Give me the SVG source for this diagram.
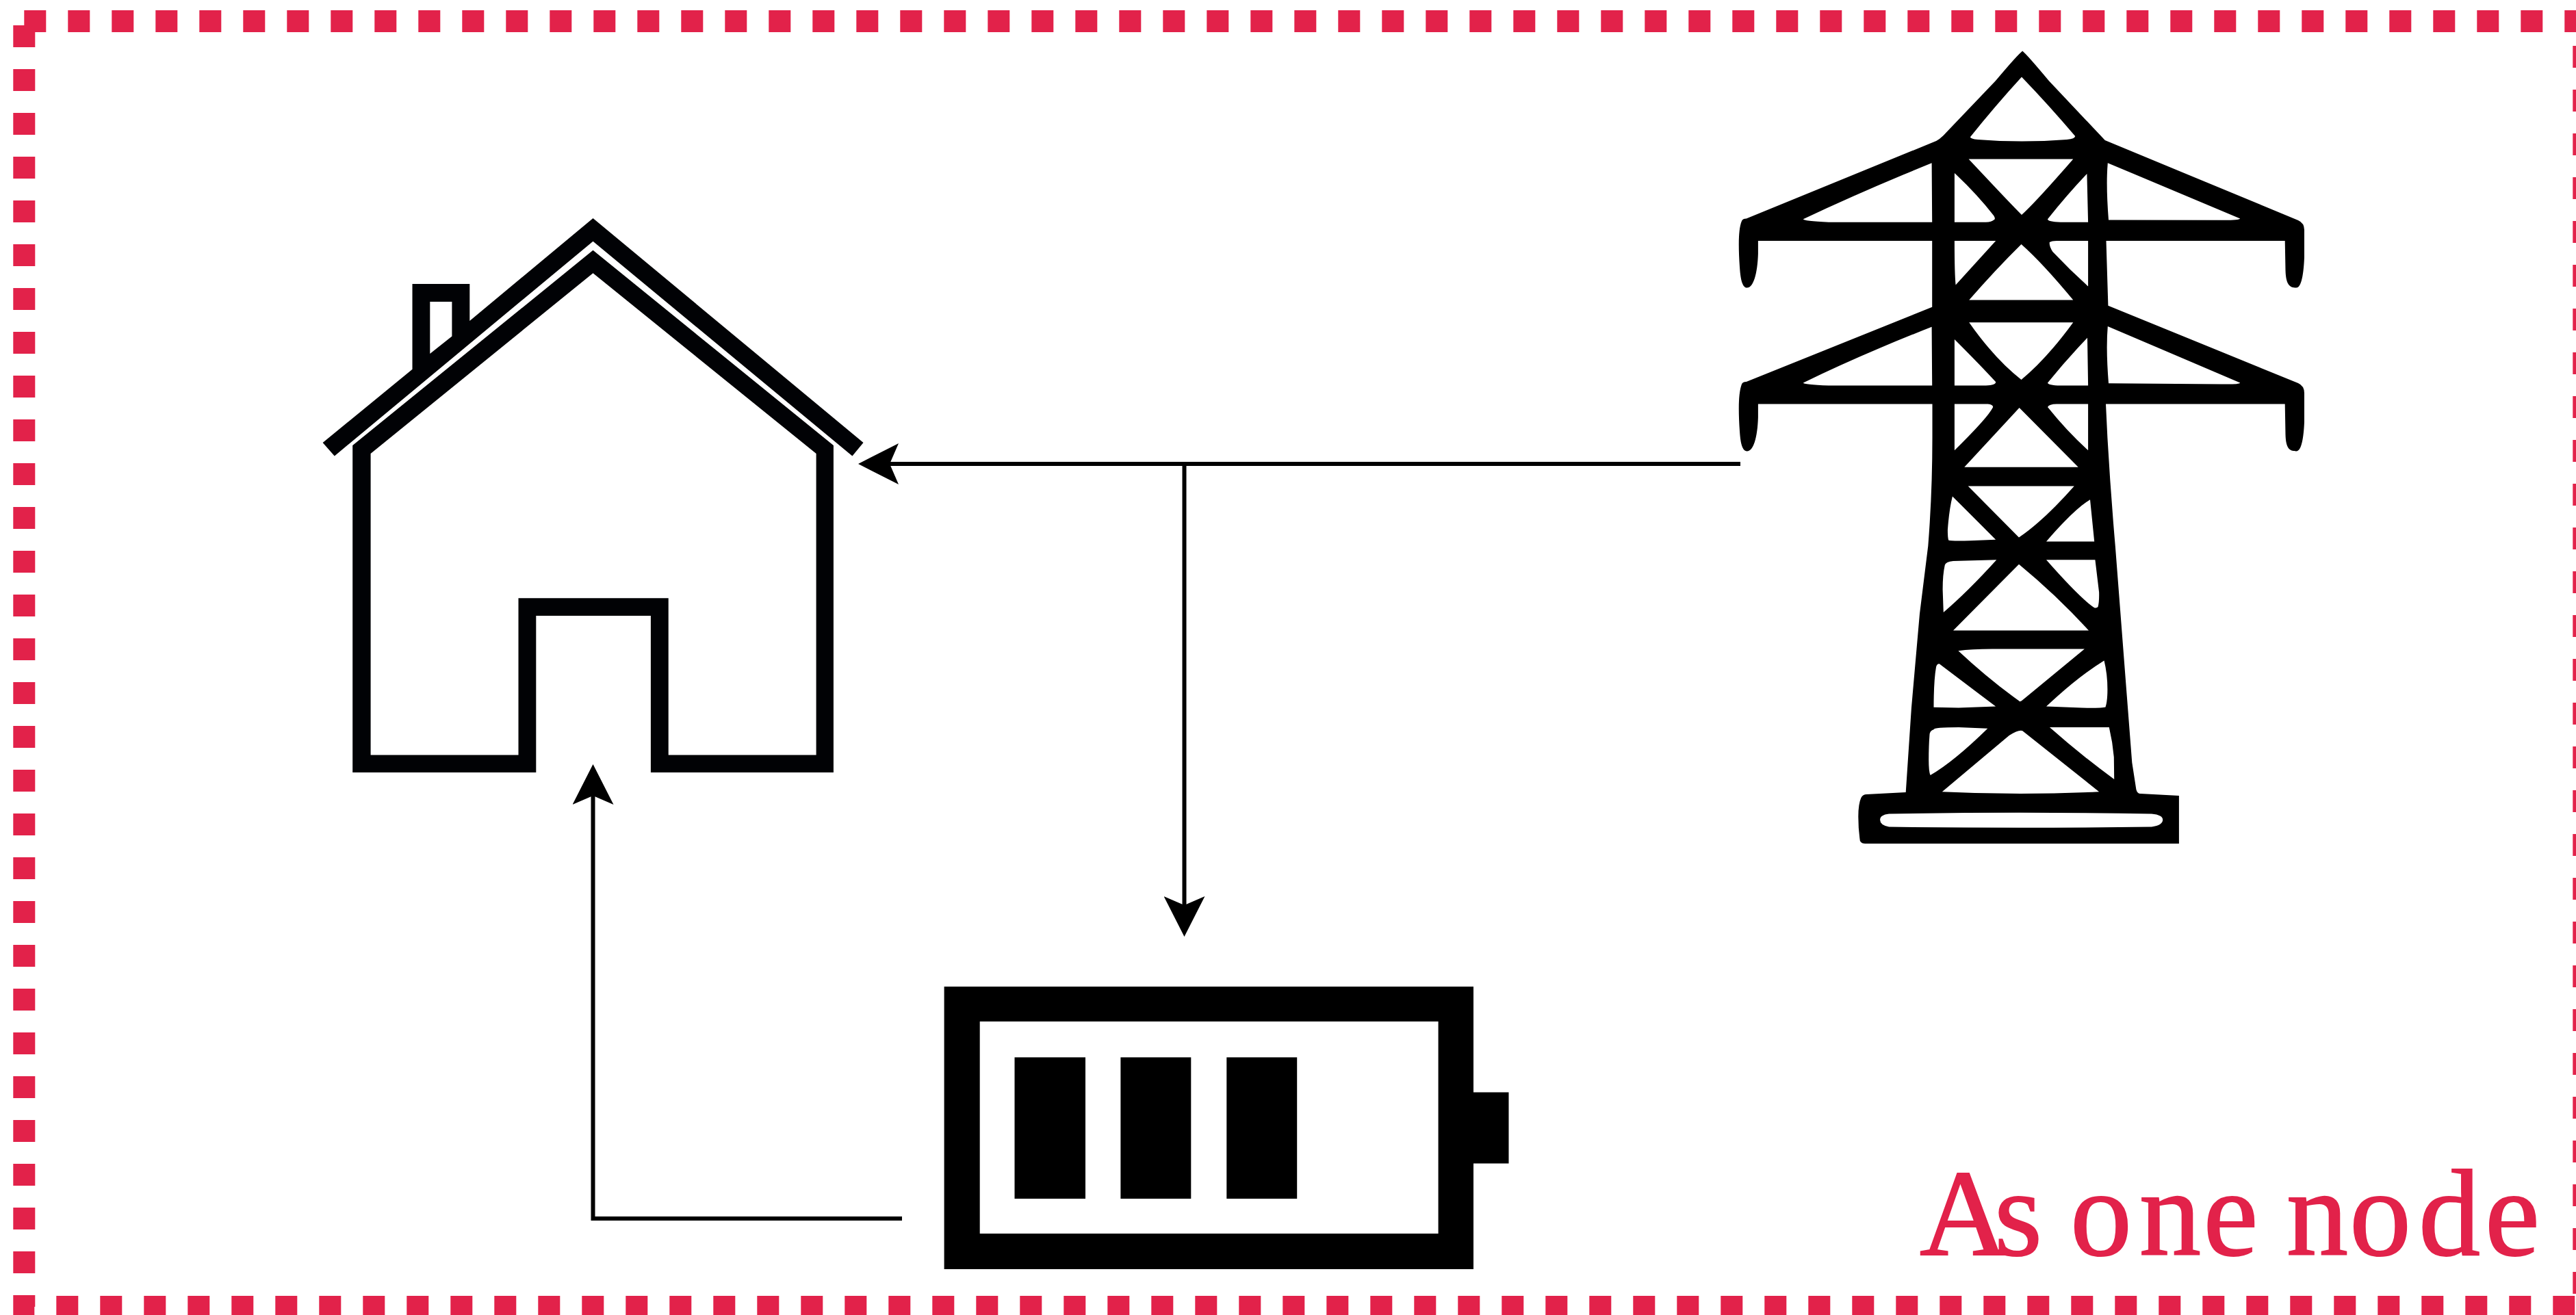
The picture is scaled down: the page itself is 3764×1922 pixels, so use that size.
<svg xmlns="http://www.w3.org/2000/svg" width="3764" height="1922" viewBox="0 0 3764 1922">
<style>
.ink{fill:#000;fill-rule:evenodd}
.house{fill:#010205;fill-rule:evenodd}
.conn{fill:none;stroke:#000;stroke-width:6}
.frame{fill:none;stroke:#E2224A;stroke-width:32;stroke-dasharray:32 32}
.label{fill:#E2224A;stroke:#E2224A;stroke-width:2;font-family:"Liberation Serif","Times New Roman",serif;font-size:180px}
</style>
<defs>
<marker id="arrow" markerUnits="userSpaceOnUse" viewBox="0 0 59 60" refX="13" refY="30" markerWidth="59" markerHeight="60" orient="auto">
<path d="M0 0L59 30L0 60L13 30Z" fill="#000"/>
</marker>
</defs>
<rect width="3764" height="1922" fill="#fff"/>
<g id="boundary">
<rect class="frame" x="35.3" y="31" width="3740" height="1879"/>
<text class="label" x="2805 2914 2990 3025 3126 3219.5 3300 3341 3433 3534 3631" y="1834">As one node</text>
</g>
<g id="house">
<path class="house" d="M866.5 319L1261.5 647L1245.4 666.4L866.5 352.7L488.8 666.4L471.6 647L602.5 539.7V415H686.3V469ZM628.3 441V517L660.4 491.4V441Z"/>
<path class="house" d="M866.5 365.8L1217.9 651V1128.9H950.9V900H783.3V1128.9H515.2V651ZM866.5 399.3L541.6 663V1103.6H757.5V874.3H976.7V1103.6H1192.6V663Z"/>
</g>
<g id="grid-tower">
<path class="ink" d="M2955.2 74.5Q2962 80 2993.7 118L3075.8 205L3358 322Q3367 326 3367 336V376.5C3366 400 3363 420.6 3355.3 420.6C3345 420.6 3340 415 3339.5 395L3338.7 352H3077.5L3080.4 446.7L3358 560Q3367 564 3367 574.5V617C3366 640 3363 659.4 3355.3 659.4C3345 659.4 3340 655 3339.5 635L3338.7 590.4H3077L3079.4 640Q3084 720 3090.8 798L3103 956L3115.3 1114.5L3121.4 1154Q3123 1160 3127.6 1160L3183.9 1163V1233H2725Q2717.3 1233 2717.3 1225Q2715.3 1210 2715.3 1193.6Q2715.3 1175 2719.4 1166Q2722 1161 2727.6 1161L2784.7 1158L2792.9 1035L2805 897L2817.3 798Q2823.5 720 2823.5 640V590.4H2568.9V610C2568 640 2562 659.4 2552.8 659.4C2545 659.4 2543 645 2542 630C2540 600 2540 575 2544.8 562Q2546 558 2551.7 558L2823.2 448.8V352H2568.9V371C2568 400 2562 420.6 2552.8 420.6C2545 420.6 2543 405 2542 390C2540 360 2540 335 2544.8 323.5Q2546 319.4 2551.7 319.4L2824.3 208Q2834 205 2844.4 192.9L2916 118Q2948 80 2955.2 74.5Z
M2954 112.4Q2995 155 3032.2 199Q3032 203 3020 204Q2953.5 209 2890 204Q2879 203 2878.9 200.2Q2915 155 2954 112.4Z
M2876.6 232.4H3029.3Q2975 295 2954 314Q2935 295 2876.6 232.4Z
M2822.6 238.2L2823.2 324.7H2672Q2635 323 2634.9 320.2Q2720 280 2822.6 238.2Z
M2855.9 252.9Q2890 285 2913.3 315.3Q2916 320 2914 321Q2910 324.7 2901.8 324.7H2855.9Z
M3049.4 254L3051.1 324.7H3010.9Q2992 324 2992 320.2Q3020 285 3049.4 254Z
M3079.8 238.2L3273.2 319.4Q3272 322 3246 321.8L3081 321.4Q3077 270 3079.8 238.2Z
M2855.9 352H2916.2L2857.6 416.5Q2855.9 400 2855.9 352Z
M2953.5 357Q2985 385 3029.3 438.6H2877.2Q2915 395 2953.5 357Z
M2994.8 354Q2998 352 3005.2 352H3051.1V418.6Q3025 395 2999.4 368Q2994 360 2994.8 354Z
M2877.2 471.2H3029.3Q2990 525 2953.5 554.9Q2915 525 2877.2 471.2Z
M2822.6 477.8L2823.2 563.5H2672Q2635 562 2634.9 559.4Q2720 518 2822.6 477.8Z
M2855.9 496Q2890 530 2916.2 558.2Q2916 563 2901.8 563.5H2855.9Z
M3050 493.7L3051.1 563.5H3010.9Q2992 563 2992 559.4Q3020 525 3050 493.7Z
M3079.8 477L3273.2 559.4Q3272 562 3246 561.5L3081 560.2Q3077 510 3079.8 477Z
M2855.9 590.4H2904.7Q2912 591 2912.2 595Q2905 610 2855.9 658.2Z
M2950.6 596L3036.7 682.7H2870.3Z
M2992 595Q2994 590.4 3005.2 590.4H3051.1V658.2Q3020 630 2992 595Z
M2875.7 710.4H3030.8Q2985 762 2950 785.5Z
M2852.9 725.4L2916.1 788.7L2878.6 790.3Q2850 791 2847.1 789.5Q2845.9 785 2845.9 774.4Q2848 745 2852.9 725.4Z
M3054 730.2L3060.2 791.4H2990Q3030 745 3054 730.2Z
M2917.3 818.3L2854 820Q2843 821 2841.8 825.8Q2838.6 840 2838.6 861.4L2839.8 895Q2875 865 2917.3 818.3Z
M2990 818.3H3061.4L3067.1 865.4Q3067.5 880 3065.5 887Q3064 889 3060.2 888.3Q3040 875 2990 818.3Z
M2950 824.7Q3005 870 3052 921.5H2854Z
M2861.4 951.2Q2880 948.4 2911 948.4H3045.9L2954 1024.3Q2951 1026 2950 1024.3Q2905 992 2861.4 951.2Z
M2833.7 970.2L2916.1 1032.6L2862 1034.6L2825.5 1033.8Q2825.5 995 2829 975Q2830 970 2833.7 970.2Z
M3074.5 965.4Q3079.4 985 3079.4 1007.7Q3079.4 1025 3076.5 1033.4Q3072 1035 3041.8 1034.6L2990 1032.6Q3035 990 3074.5 965.4Z
M2904.3 1064.7L2862.2 1063Q2825.5 1063 2825.5 1066.3Q2819.4 1068 2819.4 1075Q2818.2 1090 2818.2 1110.5Q2818.2 1128 2820.6 1133Q2855 1113 2904.3 1064.7Z
M2994.9 1063H3081.8Q3087 1085 3088.8 1106.6L3089.2 1139Q3040 1103 2994.9 1063Z
M2955.3 1068.2L3067.1 1157.2Q3010 1160 2952 1160Q2895 1160 2837.8 1157.2L2935.7 1075Q2950 1066 2955.3 1068.2Z
M2760.2 1189.6Q2950 1186 3143.9 1189.6Q3160.2 1191 3160.2 1198.3Q3160.2 1206 3143.9 1208.6Q2950 1211 2760.2 1208.6Q2747.1 1206 2747.1 1198.3Q2747.1 1191 2760.2 1189.6Z"/>
</g>
<g id="battery">
<path class="ink" d="M1379.6 1442H2153V1596.5H2204.5V1700.5H2153V1855H1379.6ZM1431.7 1493V1803H2101.6V1493Z"/>
<rect class="ink" x="1482.5" y="1545.4" width="103.5" height="206.6"/>
<rect class="ink" x="1637.4" y="1545.4" width="102.9" height="206.6"/>
<rect class="ink" x="1792.3" y="1545.4" width="102.9" height="206.6"/>
</g>
<g id="connectors">
<path class="conn" d="M2543 678H1300" marker-end="url(#arrow)"/>
<path class="conn" d="M1730.5 678V1323" marker-end="url(#arrow)"/>
<path class="conn" d="M1318 1781H866.5V1163" marker-end="url(#arrow)"/>
</g>
</svg>
